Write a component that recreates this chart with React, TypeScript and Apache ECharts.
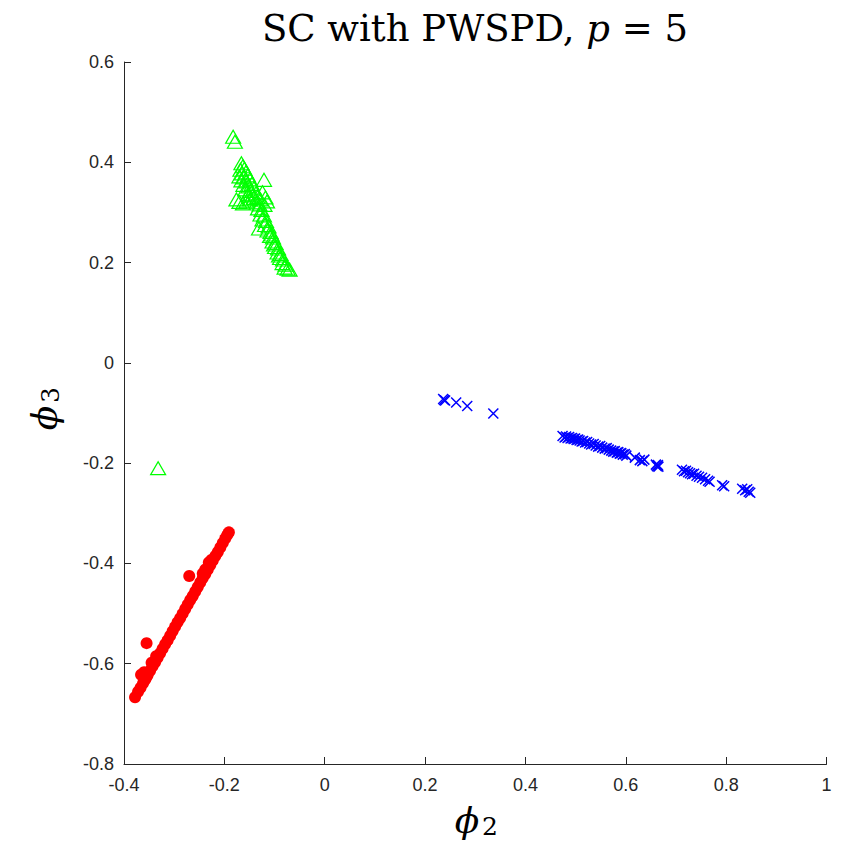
import React, { useEffect, useRef } from "react";
import * as echarts from "echarts";

const xTicks = [-0.4, -0.2, 0, 0.2, 0.4, 0.6, 0.8, 1];
const yTicks = [-0.8, -0.6, -0.4, -0.2, 0, 0.2, 0.4, 0.6];

const blueCrosses: number[][] = [
  [0.236, -0.072], [0.24, -0.075], [0.238, -0.074], [0.262, -0.079], [0.284, -0.086], [0.336, -0.101],
  [0.474, -0.146], [0.478, -0.149], [0.481, -0.147], [0.484, -0.15], [0.487, -0.148], [0.49, -0.151],
  [0.493, -0.15], [0.496, -0.152], [0.499, -0.151], [0.502, -0.154], [0.505, -0.153], [0.508, -0.155],
  [0.512, -0.157], [0.515, -0.156], [0.519, -0.159], [0.523, -0.158], [0.527, -0.161], [0.531, -0.163],
  [0.536, -0.162], [0.54, -0.165], [0.545, -0.167], [0.549, -0.166], [0.553, -0.169], [0.558, -0.171],
  [0.562, -0.17], [0.566, -0.173], [0.571, -0.175], [0.575, -0.177], [0.578, -0.176], [0.582, -0.179],
  [0.585, -0.178], [0.588, -0.181], [0.591, -0.18], [0.594, -0.183], [0.598, -0.182], [0.601, -0.185],
  [0.618, -0.189], [0.628, -0.194], [0.633, -0.196], [0.637, -0.193],
  [0.66, -0.203], [0.662, -0.206], [0.664, -0.204], [0.665, -0.207],
  [0.712, -0.213], [0.716, -0.216], [0.72, -0.215], [0.724, -0.218], [0.728, -0.22], [0.732, -0.222],
  [0.736, -0.221], [0.741, -0.225], [0.746, -0.227], [0.752, -0.229], [0.758, -0.232], [0.764, -0.235],
  [0.767, -0.237], [0.792, -0.244], [0.796, -0.246],
  [0.832, -0.251], [0.838, -0.254], [0.842, -0.252], [0.845, -0.257], [0.848, -0.259],
];

const greenTriangles: number[][] = [
  [-0.1825, 0.451], [-0.179, 0.441],
  [-0.166, 0.398], [-0.163, 0.392], [-0.168, 0.385], [-0.16, 0.387], [-0.165, 0.378], [-0.157, 0.38],
  [-0.17, 0.372], [-0.161, 0.37], [-0.153, 0.374], [-0.166, 0.364], [-0.156, 0.362], [-0.149, 0.366],
  [-0.162, 0.355], [-0.152, 0.352], [-0.145, 0.357], [-0.158, 0.346], [-0.148, 0.343], [-0.141, 0.348],
  [-0.153, 0.336], [-0.144, 0.334], [-0.137, 0.338], [-0.124, 0.34],
  [-0.176, 0.326], [-0.17, 0.321], [-0.163, 0.318], [-0.156, 0.322], [-0.149, 0.326], [-0.141, 0.329],
  [-0.134, 0.331], [-0.128, 0.326], [-0.118, 0.33], [-0.115, 0.322], [-0.12, 0.315],
  [-0.136, 0.32], [-0.13, 0.316], [-0.133, 0.308], [-0.126, 0.305], [-0.128, 0.296], [-0.121, 0.294],
  [-0.124, 0.286], [-0.117, 0.283], [-0.119, 0.275], [-0.112, 0.272], [-0.114, 0.264], [-0.108, 0.261],
  [-0.109, 0.253], [-0.103, 0.25], [-0.104, 0.242], [-0.098, 0.239], [-0.099, 0.231], [-0.093, 0.228],
  [-0.094, 0.22], [-0.088, 0.217], [-0.089, 0.209], [-0.083, 0.206], [-0.084, 0.199], [-0.078, 0.196],
  [-0.08, 0.19], [-0.074, 0.188], [-0.07, 0.186], [-0.101, 0.236], [-0.091, 0.214], [-0.106, 0.256],
  [-0.121, 0.365], [-0.131, 0.268], [-0.332, -0.21],
];

const redCircles: number[][] = [
  [-0.378, -0.667], [-0.372, -0.656], [-0.367, -0.648], [-0.362, -0.639], [-0.358, -0.632], [-0.353, -0.623],
  [-0.348, -0.614], [-0.343, -0.605], [-0.338, -0.597], [-0.333, -0.588], [-0.328, -0.579], [-0.323, -0.57],
  [-0.318, -0.561], [-0.313, -0.553], [-0.308, -0.544], [-0.303, -0.535], [-0.298, -0.526], [-0.293, -0.517],
  [-0.288, -0.509], [-0.283, -0.5], [-0.278, -0.491], [-0.273, -0.482], [-0.268, -0.473], [-0.263, -0.465],
  [-0.258, -0.456], [-0.253, -0.447], [-0.248, -0.438], [-0.243, -0.429], [-0.238, -0.421], [-0.233, -0.412],
  [-0.228, -0.403], [-0.223, -0.394], [-0.218, -0.385], [-0.213, -0.377], [-0.208, -0.368], [-0.203, -0.359],
  [-0.198, -0.35], [-0.194, -0.343], [-0.191, -0.338],
  [-0.366, -0.622], [-0.36, -0.617], [-0.356, -0.628], [-0.345, -0.598], [-0.336, -0.585],
  [-0.243, -0.42], [-0.238, -0.412], [-0.231, -0.398], [-0.226, -0.393],
  [-0.27, -0.425], [-0.355, -0.559],
];

const fmt = (v: number) => {
  const r = Math.round(v * 10) / 10;
  return r === 0 ? "0" : String(r);
};

export default function App() {
  const ref = useRef<HTMLDivElement>(null);
  useEffect(() => {
    if (!ref.current) return;
    const chart = echarts.init(ref.current, null, { renderer: "svg" });
    const axisColor = "#262626";
    const serif = "DejaVu Serif";
    chart.setOption({
      animation: false,
      backgroundColor: "#ffffff",
      grid: { left: 124, top: 62, width: 702.5, height: 702, containLabel: false },
      xAxis: {
        type: "value",
        min: xTicks[0],
        max: xTicks[xTicks.length - 1],
        interval: 0.2,
        axisLine: { show: true, onZero: false, lineStyle: { color: axisColor, width: 1 } },
        axisTick: { show: true, inside: true, length: 7, lineStyle: { color: axisColor } },
        axisLabel: { color: axisColor, fontSize: 18, fontFamily: "Liberation Sans", margin: 12, formatter: fmt },
        splitLine: { show: false },
      },
      yAxis: {
        type: "value",
        min: yTicks[0],
        max: yTicks[yTicks.length - 1],
        interval: 0.2,
        axisLine: { show: true, onZero: false, lineStyle: { color: axisColor, width: 1 } },
        axisTick: { show: true, inside: true, length: 7, lineStyle: { color: axisColor } },
        axisLabel: { color: axisColor, fontSize: 18, fontFamily: "Liberation Sans", margin: 10, formatter: fmt },
        splitLine: { show: false },
      },
      graphic: [
        {
          type: "text",
          x: 475,
          y: 28,
          style: {
            text: "{a|SC with PWSPD, }{b|p}{a| = 5}",
            align: "center",
            verticalAlign: "middle",
            rich: {
              a: { fontFamily: serif, fontSize: 37, fill: "#000" },
              b: { fontFamily: serif, fontSize: 37, fontStyle: "italic", fill: "#000" },
            },
          },
        },
        {
          type: "group",
          x: 467,
          y: 820,
          children: [
            { type: "text", x: 0, y: 0, style: { text: "ϕ", fontFamily: serif, fontStyle: "italic", fontSize: 36, fill: "#000", align: "center", verticalAlign: "middle" } },
            { type: "text", x: 15, y: 6, style: { text: "2", fontFamily: serif, fontSize: 25, fill: "#000", align: "left", verticalAlign: "middle" } },
          ],
        },
        {
          type: "group",
          x: 44,
          y: 418,
          rotation: Math.PI / 2,
          children: [
            { type: "text", x: 0, y: 0, style: { text: "ϕ", fontFamily: serif, fontStyle: "italic", fontSize: 36, fill: "#000", align: "center", verticalAlign: "middle" } },
            { type: "text", x: 15, y: 6, style: { text: "3", fontFamily: serif, fontSize: 25, fill: "#000", align: "left", verticalAlign: "middle" } },
          ],
        },
      ],
      series: [
        {
          type: "scatter",
          data: blueCrosses,
          symbol: "path://M0,0L10,10M10,0L0,10",
          symbolSize: 10,
          itemStyle: { color: "#0000ff", borderColor: "#0000ff", borderWidth: 1.5, opacity: 1 },
        },
        {
          type: "scatter",
          data: greenTriangles,
          symbol: "triangle",
          symbolSize: [15, 13],
          itemStyle: { color: "rgba(0,0,0,0)", borderColor: "#00ff00", borderWidth: 1.2, opacity: 1 },
        },
        {
          type: "scatter",
          data: redCircles,
          symbol: "circle",
          symbolSize: 12,
          itemStyle: { color: "#ff0000", opacity: 1 },
        },
      ],
    });
    return () => chart.dispose();
  }, []);
  return <div ref={ref} style={{ position: "fixed", left: 0, top: 0, width: 848, height: 845 }} />;
}
